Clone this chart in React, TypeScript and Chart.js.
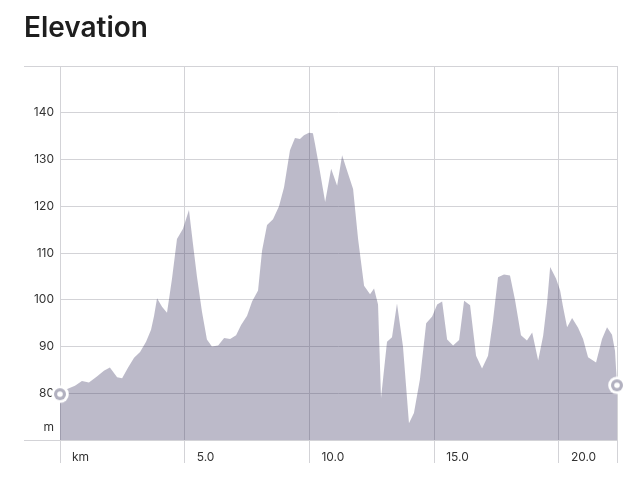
import React, { useEffect, useRef } from 'react';
import { Chart, registerables } from 'chart.js';

Chart.register(...registerables);

const chartTitle = 'Elevation';
const xUnitLabel = 'km';
const yUnitLabel = 'm';

const distanceKm = [
  0.0, 0.24, 0.6, 0.88, 1.16, 1.48, 1.76, 2.0, 2.29, 2.49,
  2.73, 2.97, 3.21, 3.45, 3.65, 3.77, 3.89, 4.09, 4.29, 4.49,
  4.69, 4.93, 5.17, 5.33, 5.49, 5.69, 5.89, 6.09, 6.34, 6.58,
  6.82, 7.06, 7.26, 7.5, 7.7, 7.94, 8.1, 8.3, 8.54, 8.78,
  8.98, 9.22, 9.42, 9.62, 9.78, 9.98, 10.14, 10.22, 10.39, 10.63,
  10.87, 11.11, 11.31, 11.51, 11.75, 11.95, 12.19, 12.43, 12.59, 12.75,
  12.87, 13.11, 13.31, 13.51, 13.75, 13.99, 14.19, 14.43, 14.68, 14.92,
  15.12, 15.32, 15.52, 15.76, 16.0, 16.2, 16.44, 16.68, 16.92, 17.16,
  17.36, 17.56, 17.8, 18.04, 18.24, 18.48, 18.72, 18.93, 19.17, 19.37,
  19.53, 19.65, 19.89, 20.05, 20.17, 20.33, 20.53, 20.77, 20.97, 21.17,
  21.49, 21.73, 21.93, 22.13, 22.25, 22.33,
];

const elevationM = [
  79.8, 80.8, 81.6, 82.6, 82.3, 83.6, 84.8, 85.5, 83.4, 83.2,
  85.5, 87.6, 88.8, 91.0, 93.6, 96.5, 100.3, 98.5, 97.2, 104.5,
  113.0, 115.2, 119.2, 112.0, 105.0, 97.5, 91.5, 90.0, 90.2, 91.8,
  91.6, 92.4, 94.6, 96.6, 99.6, 102.0, 110.5, 116.0, 117.2, 120.0,
  124.0, 132.0, 134.6, 134.4, 135.2, 135.7, 135.6, 133.4, 128.4, 120.9,
  128.0, 124.4, 130.9, 127.6, 123.7, 113.0, 103.0, 101.2, 102.4, 99.0,
  79.0, 91.0, 92.0, 99.2, 90.0, 73.6, 75.8, 83.0, 95.0, 96.4,
  99.0, 99.6, 91.5, 90.2, 91.4, 99.8, 98.8, 88.0, 85.3, 88.0,
  95.6, 104.8, 105.4, 105.2, 100.0, 92.4, 91.3, 93.0, 87.0, 92.3,
  99.5, 107.0, 104.5, 102.0, 98.4, 94.1, 96.1, 94.0, 91.6, 87.7,
  86.6, 91.6, 94.1, 92.5, 89.1, 81.7,
];

const xTickValues = [0, 5, 10, 15, 20];
const xMax = 22.33;
const yMin = 70;
const yMax = 150;
const yStep = 10;

const FONT = 'Inter, "Noto Sans", sans-serif';
const GRID = '#d3d3d7';
const FILL = 'rgba(58, 54, 96, 0.34)';
const MARK = '#b2b1c0';

function makeMarker(): HTMLCanvasElement {
  const c = document.createElement('canvas');
  c.width = 20;
  c.height = 20;
  const ctx = c.getContext('2d')!;
  const disc = (r: number, col: string) => {
    ctx.beginPath();
    ctx.arc(10, 10, r, 0, Math.PI * 2);
    ctx.fillStyle = col;
    ctx.fill();
  };
  disc(8.8, '#ffffff');
  disc(6, MARK);
  disc(2.8, '#ffffff');
  return c;
}

const align = (p: number) => Math.round(p - 0.5) + 0.5;

const framePlugin = {
  id: 'frameLines',
  beforeDatasetsDraw(chart: any) {
    const { ctx, chartArea, scales } = chart;
    const y = scales.y;
    ctx.save();
    ctx.strokeStyle = GRID;
    ctx.lineWidth = 1;
    [yMin, yMax].forEach((v) => {
      const py = align(y.getPixelForValue(v));
      ctx.beginPath();
      ctx.moveTo(y.left, py);
      ctx.lineTo(chartArea.right, py);
      ctx.stroke();
    });
    ctx.restore();
  },
  afterDraw(chart: any) {
    const { ctx, scales } = chart;
    const y = scales.y;
    ctx.save();
    ctx.font = `12px ${FONT}`;
    ctx.fillStyle = '#333';
    ctx.textAlign = 'right';
    ctx.textBaseline = 'middle';
    ctx.fillText(yUnitLabel, y.right - 6, y.getPixelForValue(yMin) - 13);
    ctx.restore();
  },
};

export default function App() {
  const ref = useRef<HTMLCanvasElement>(null);

  useEffect(() => {
    if (!ref.current) return;
    const marker = makeMarker();
    const last = distanceKm.length - 1;
    const chart = new Chart(ref.current, {
      type: 'line',
      data: {
        datasets: [
          {
            data: distanceKm.map((x, i) => ({ x, y: elevationM[i] })),
            backgroundColor: FILL,
            borderWidth: 0,
            borderColor: 'rgba(0,0,0,0)',
            fill: 'start',
            tension: 0,
            clip: false,
            pointRadius: (c: any) => (c.dataIndex === 0 || c.dataIndex === last ? 8 : 0),
            pointHoverRadius: 0,
            pointStyle: marker as any,
          },
        ],
      },
      options: {
        animation: false,
        responsive: true,
        maintainAspectRatio: false,
        layout: { padding: { left: 24, right: 25, top: 0, bottom: 0 } },
        plugins: {
          legend: { display: false },
          tooltip: { enabled: false },
          title: {
            display: true,
            text: chartTitle,
            align: 'start',
            color: '#1e1e1e',
            font: { family: FONT, size: 28, weight: '600' as any },
            padding: { top: 12, bottom: 20.4 },
          },
        },
        scales: {
          x: {
            type: 'linear',
            min: 0,
            max: xMax,
            afterBuildTicks: (s: any) => {
              s.ticks = [...xTickValues, xMax].map((value) => ({ value }));
            },
            afterFit: (s: any) => {
              s.height = 41;
            },
            grid: { color: GRID, tickColor: GRID, tickLength: 23 },
            border: { display: false },
            ticks: {
              align: 'start',
              labelOffset: 12,
              padding: -13,
              maxRotation: 0,
              autoSkip: false,
              color: '#333',
              font: { family: FONT, size: 12 },
              callback: (v: any) => {
                const n = Number(v);
                if (n === 0) return xUnitLabel;
                if (n === xMax) return '';
                return n.toFixed(1);
              },
            },
          },
          y: {
            min: yMin,
            max: yMax,
            afterFit: (s: any) => {
              s.width = 36;
            },
            grid: { color: GRID, drawTicks: false },
            border: { display: false },
            ticks: {
              stepSize: yStep,
              padding: 6,
              color: '#333',
              font: { family: FONT, size: 12 },
              callback: (v: any) => {
                const n = Number(v);
                if (n === yMin || n === yMax) return '';
                return String(n);
              },
            },
          },
        },
      },
      plugins: [framePlugin],
    });
    return () => chart.destroy();
  }, []);

  return (
    <div style={{ position: 'fixed', left: 0, top: 0, width: 642, height: 481, background: '#fff' }}>
      <canvas ref={ref} />
    </div>
  );
}
